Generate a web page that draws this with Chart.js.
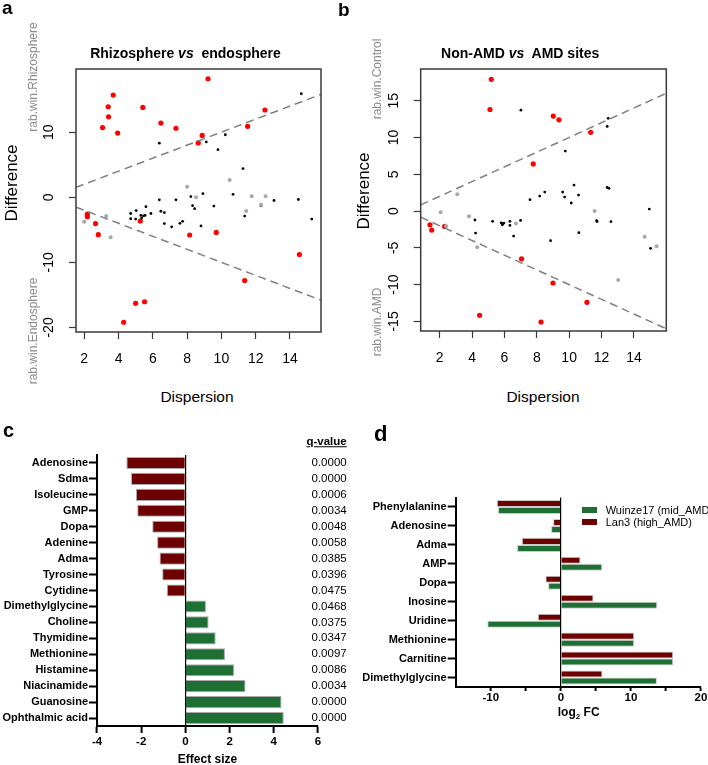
<!DOCTYPE html>
<html>
<head>
<meta charset="utf-8">
<script src="https://cdn.jsdelivr.net/npm/chart.js@4.4.1/dist/chart.umd.min.js"></script>
<style>
    html, body { margin: 0; padding: 0; background: #fff; overflow: hidden; }
    #page { position: relative; width: 708px; height: 765px; font-family: "Liberation Sans", Arial, sans-serif; }
    canvas { position: absolute; }
    .t { position: absolute; line-height: 1; white-space: nowrap; color: #000; }
</style>
</head>
<body>
<div id="page">
    <canvas id="chart-a" width="354" height="380" style="left:0;top:0"></canvas>
    <canvas id="chart-b" width="354" height="380" style="left:354px;top:0"></canvas>
    <canvas id="chart-c" width="354" height="355" style="left:0;top:410px"></canvas>
    <canvas id="chart-d" width="354" height="355" style="left:354px;top:410px"></canvas>
</div>
<script>
/*====================================
data
=========================================*/
// panel a: rhizosphere vs endosphere (dispersion, difference)
const aRed = [[9.22, 18.2], [3.69, 15.7], [3.40, 13.9], [3.42, 12.35], [3.07, 10.7], [3.95, 9.85],
    [5.42, 13.8], [6.47, 11.4], [7.35, 10.6], [8.88, 9.5], [8.65, 8.35], [11.53, 10.9], [12.54, 13.4],
    [2.18, -2.6], [2.18, -3.0], [2.66, -4.05], [2.82, -5.75], [5.27, -3.65], [8.15, -5.8], [9.70, -5.4],
    [11.36, -12.8], [14.55, -8.8], [5.0, -16.3], [5.52, -16.05], [4.3, -19.2]];
const aBlack = [[14.66, 15.9], [6.38, 8.3], [9.12, 8.5], [10.23, 9.6], [9.80, 7.3], [11.26, 4.4],
    [6.38, -0.4], [7.35, -0.4], [8.22, 0.1], [8.92, 0.55], [10.68, 0.45], [13.07, -0.5], [14.49, -0.35],
    [15.27, -3.35], [4.71, -2.5], [4.71, -3.3], [5.03, -2.05], [5.0, -3.35], [5.3, -2.8], [5.45, -2.85],
    [5.55, -2.8], [5.35, -3.2], [5.6, -1.45], [5.89, -2.5], [6.47, -2.15], [6.67, -2.35], [6.67, -4.05],
    [7.1, -4.55], [7.58, -4.0], [7.74, -3.7], [8.32, -1.3], [8.44, -1.75], [8.81, -4.4], [9.56, -1.35],
    [11.36, -2.9], [12.31, -1.3]];
const aGrey = [[10.48, 2.66], [8.0, 1.63], [8.52, 0.0], [11.77, 0.15], [12.58, 0.15], [11.45, -2.1],
    [12.31, -1.15], [2.0, -3.75], [3.28, -2.9], [3.54, -6.15]];
const aXRange = [1.52, 15.81];
const aYRange = [-20.7, 19.7];
const aXTicks = [2, 4, 6, 8, 10, 12, 14];
const aYTicks = [-20, -10, 0, 10];

// panel b: non-AMD vs AMD sites
const bRed = [[5.19, 17.9], [5.11, 13.8], [9.02, 12.9], [9.37, 12.4], [11.33, 10.7], [7.78, 6.4],
    [1.4, -1.86], [1.51, -2.58], [2.31, -2.09], [7.06, -6.48], [9.0, -9.78], [11.1, -12.41],
    [4.47, -14.17], [8.26, -15.08]];
const bBlack = [[7.02, 13.7], [12.41, 12.6], [12.35, 11.5], [9.76, 8.15],
    [7.58, 1.54], [8.18, 2.04], [8.49, 2.58], [9.6, 2.58], [9.72, 1.9], [10.3, 3.53], [10.58, 2.17],
    [10.13, 1.09], [12.35, 3.2], [12.46, 3.08], [4.18, -1.22], [4.22, -2.99], [5.27, -1.4], [5.8, -1.6],
    [5.87, -1.86], [5.97, -1.63], [5.9, -1.75], [6.34, -1.4], [6.34, -1.95], [6.57, -3.4], [7.0, -1.27],
    [8.85, -4.03], [10.6, -2.94], [11.7, -1.3], [11.72, -1.42], [12.58, -1.45], [14.95, 0.27], [15.03, -5.07]];
const bGrey = [[3.09, 2.27], [2.06, -0.18], [3.81, -0.72], [2.39, -2.04], [4.32, -4.93], [6.71, -1.68],
    [11.57, 0.0], [14.66, -3.49], [15.4, -4.8], [13.03, -9.38]];
const bXRange = [0.83, 16.0];
const bYRange = [-16.3, 19.3];
const bXTicks = [2, 4, 6, 8, 10, 12, 14];
const bYTicks = [-15, -10, -5, 0, 5, 10, 15];

// panel c: effect size
const cLabels = ['Adenosine', 'Sdma', 'Isoleucine', 'GMP', 'Dopa', 'Adenine', 'Adma', 'Tyrosine', 'Cytidine',
    'Dimethylglycine', 'Choline', 'Thymidine', 'Methionine', 'Histamine', 'Niacinamide', 'Guanosine', 'Ophthalmic acid'];
const cEffect = [-2.67, -2.46, -2.24, -2.18, -1.50, -1.28, -1.17, -1.05, -0.84,
    0.93, 1.05, 1.37, 1.79, 2.2, 2.72, 4.35, 4.45];
const cQValues = ['0.0000', '0.0000', '0.0006', '0.0034', '0.0048', '0.0058', '0.0385', '0.0396', '0.0475',
    '0.0468', '0.0375', '0.0347', '0.0097', '0.0086', '0.0034', '0.0000', '0.0000'];
const cXTicks = [-4, -2, 0, 2, 4, 6];

// panel d: log2 FC
const dLabels = ['Phenylalanine', 'Adenosine', 'Adma', 'AMP', 'Dopa', 'Inosine', 'Uridine', 'Methionine',
    'Carnitine', 'Dimethylglycine'];
const dLan3 = [-9.14, -1.1, -5.57, 2.8, -2.2, 4.66, -3.29, 10.47, 16.04, 5.94];
const dWuinze17 = [-8.96, -1.39, -6.24, 5.9, -1.81, 13.76, -10.49, 10.47, 16.04, 13.71];
const dXTicks = [-10, -5, 0, 5, 10, 15, 20];

const darkRed = '#6d0000';
const darkGreen = '#1f6f35';

Chart.defaults.font.family = '"Liberation Sans", Arial, sans-serif';
Chart.defaults.color = '#000';

const toPts = arr => arr.map(p => ({ x: p[0], y: p[1] }));

/*===============
R style frame + rotated y labels
====================*/
const rFrame = {
    id: 'rFrame',
    afterDraw(chart, args, opts) {
        const { ctx, chartArea: a, scales } = chart;
        ctx.save();
        ctx.strokeStyle = '#3a3a3a';
        ctx.lineWidth = 1.5;
        ctx.strokeRect(a.left, a.top, a.right - a.left, a.bottom - a.top);
        ctx.fillStyle = '#000';
        ctx.font = '14px "Liberation Sans", Arial, sans-serif';
        ctx.textAlign = 'center';
        ctx.textBaseline = 'middle';
        scales.y.ticks.forEach(t => {
            ctx.save();
            ctx.translate(opts.labelX, scales.y.getPixelForValue(t.value));
            ctx.rotate(-Math.PI / 2);
            ctx.fillText(String(t.value), 0, 0);
            ctx.restore();
        });
        ctx.restore();
    }
};

// q-value column next to panel c, one per category
const qColumn = {
    id: 'qColumn',
    afterDraw(chart, args, opts) {
        const { ctx, scales } = chart;
        ctx.save();
        ctx.fillStyle = '#000';
        ctx.font = '11.5px "Liberation Sans", Arial, sans-serif';
        ctx.textAlign = 'right';
        ctx.textBaseline = 'middle';
        opts.values.forEach((q, i) => {
            ctx.fillText(q, opts.right, scales.y.getPixelForValue(i));
        });
        ctx.restore();
    }
};

function scatterPanel(id, p) {
    const el = document.getElementById(id);
    const dash = { showLine: true, pointRadius: 0, borderColor: '#808080', borderWidth: 1.5, borderDash: [8, 5] };
    new Chart(el, {
        type: 'scatter',
        data: {
            datasets: [
                Object.assign({ data: p.xRange.map(v => ({ x: v, y: v })) }, dash),
                Object.assign({ data: p.xRange.map(v => ({ x: v, y: -v })) }, dash),
                { data: toPts(p.grey), backgroundColor: '#a8a8a8', pointRadius: 2, borderWidth: 0 },
                { data: toPts(p.black), backgroundColor: '#000', pointRadius: 1.4, borderWidth: 0 },
                { data: toPts(p.red), backgroundColor: '#ff0000', pointRadius: 2.6, borderWidth: 0 }
            ]
        },
        options: {
            responsive: false,
            animation: false,
            devicePixelRatio: 1,
            layout: { padding: { left: 0, top: 69, right: p.padRight, bottom: 0 } },
            plugins: { legend: { display: false }, tooltip: { enabled: false }, rFrame: { labelX: p.labelX } },
            scales: {
                x: {
                    type: 'linear', min: p.xRange[0], max: p.xRange[1],
                    afterBuildTicks: s => { s.ticks = p.xTicks.map(v => ({ value: v })); },
                    afterFit: s => { s.height = p.xHeight; },
                    grid: { drawOnChartArea: false, tickLength: 7, tickColor: '#3a3a3a', tickWidth: 1.2 },
                    border: { display: false },
                    ticks: { font: { size: 14 }, padding: 12, maxRotation: 0 }
                },
                y: {
                    type: 'linear', min: p.yRange[0], max: p.yRange[1],
                    afterBuildTicks: s => { s.ticks = p.yTicks.map(v => ({ value: v })); },
                    afterFit: s => { s.width = p.yWidth; },
                    grid: { drawOnChartArea: false, tickLength: 7, tickColor: '#3a3a3a', tickWidth: 1.2 },
                    border: { display: false },
                    ticks: { display: false }
                }
            }
        },
        plugins: [rFrame]
    });
}

/*===============
panels a, b
====================*/
scatterPanel('chart-a', {
    red: aRed, black: aBlack, grey: aGrey, xRange: aXRange, yRange: aYRange,
    xTicks: aXTicks, yTicks: aYTicks, padRight: 33, yWidth: 76, xHeight: 48, labelX: 49
});
scatterPanel('chart-b', {
    red: bRed, black: bBlack, grey: bGrey, xRange: bXRange, yRange: bYRange,
    xTicks: bXTicks, yTicks: bYTicks, padRight: 41.7, yWidth: 66.7, xHeight: 49, labelX: 40
});

/*===============
panel c
====================*/
new Chart(document.getElementById('chart-c'), {
    type: 'bar',
    data: {
        labels: cLabels,
        datasets: [{
            data: cEffect,
            backgroundColor: ctx => ctx.raw < 0 ? darkRed : darkGreen,
            borderColor: 'rgba(150, 150, 150, 0.8)',
            borderWidth: 1,
            barPercentage: 0.76,
            categoryPercentage: 1
        }]
    },
    options: {
        indexAxis: 'y',
        responsive: false,
        animation: false,
        devicePixelRatio: 1,
        layout: { padding: { left: 0, top: 45, right: 36, bottom: 0 } },
        plugins: { legend: { display: false }, tooltip: { enabled: false }, qColumn: { values: cQValues, right: 346.7 } },
        scales: {
            x: {
                type: 'linear', min: -4, max: 6,
                afterBuildTicks: s => { s.ticks = cXTicks.map(v => ({ value: v })); },
                afterFit: s => { s.height = 39; },
                grid: {
                    color: ctx => (ctx.tick && ctx.tick.value === 0) ? '#000' : 'rgba(0,0,0,0)',
                    lineWidth: 1.2, tickColor: '#000', tickWidth: 2, tickLength: 7
                },
                border: { color: '#000', width: 2 },
                ticks: { font: { size: 11.5, weight: 'bold' }, padding: 2, maxRotation: 0 }
            },
            y: {
                afterFit: s => { s.width = 97; },
                grid: { offset: false, drawOnChartArea: false, tickColor: '#000', tickWidth: 2, tickLength: 8 },
                border: { color: '#000', width: 2 },
                ticks: { font: { size: 11, weight: 'bold' }, padding: 1, autoSkip: false }
            }
        }
    },
    plugins: [qColumn]
});

/*===============
panel d
====================*/
new Chart(document.getElementById('chart-d'), {
    type: 'bar',
    data: {
        labels: dLabels,
        datasets: [
            { label: 'Lan3 (high_AMD)', data: dLan3, backgroundColor: darkRed },
            { label: 'Wuinze17 (mid_AMD)', data: dWuinze17, backgroundColor: darkGreen }
        ]
    },
    options: {
        indexAxis: 'y',
        responsive: false,
        animation: false,
        devicePixelRatio: 1,
        datasets: { bar: { barPercentage: 1, categoryPercentage: 0.74, borderWidth: 1, borderColor: 'rgba(170, 170, 170, 0.6)' } },
        layout: { padding: { left: 0, top: 87.5, right: 7, bottom: 0 } },
        plugins: { legend: { display: false }, tooltip: { enabled: false } },
        scales: {
            x: {
                type: 'linear', min: -15, max: 20,
                afterBuildTicks: s => { s.ticks = dXTicks.map(v => ({ value: v })); },
                afterFit: s => { s.height = 78; },
                grid: {
                    color: ctx => (ctx.tick && ctx.tick.value === 0) ? '#000' : 'rgba(0,0,0,0)',
                    lineWidth: 1.2, tickColor: '#000', tickWidth: 2, tickLength: 4
                },
                border: { color: '#000', width: 2 },
                ticks: { font: { size: 11.5, weight: 'bold' }, padding: 0, maxRotation: 0,
                    callback: v => (v % 10 === 0 ? String(v) : '') }
            },
            y: {
                afterFit: s => { s.width = 101.7; },
                grid: { offset: false, drawOnChartArea: false, tickColor: '#000', tickWidth: 2, tickLength: 8 },
                border: { color: '#000', width: 2 },
                ticks: { font: { size: 11, weight: 'bold' }, padding: 1, autoSkip: false }
            }
        }
    }
});

/*===============
text overlays
====================*/
const page = document.getElementById('page');
function put(html, x, y, css, anchor, rot) {
    const d = document.createElement('div');
    d.className = 't';
    d.innerHTML = html;
    d.style.cssText += css;
    d.style.left = x + 'px';
    d.style.top = y + 'px';
    const tx = anchor === 'l' ? '0' : (anchor === 'r' ? '-100%' : '-50%');
    d.style.transform = 'translate(' + tx + ',-50%)' + (rot ? ' rotate(-90deg)' : '');
    page.appendChild(d);
    return d;
}

put('a', 2, 6.9, 'font-size:19px;font-weight:bold;', 'l');
put('b', 338, 9.4, 'font-size:19px;font-weight:bold;', 'l');
put('c', 3, 429.6, 'font-size:20px;font-weight:bold;', 'l');
put('d', 374, 434.4, 'font-size:22px;font-weight:bold;', 'l');

put('Rhizosphere <i>vs</i>&nbsp; endosphere', 185.5, 52.5, 'font-size:14px;font-weight:bold;', 'c');
put('Non-AMD <i>vs</i>&nbsp; AMD sites', 520.2, 52.5, 'font-size:14px;font-weight:bold;', 'c');

put('Difference', 11, 183, 'font-size:17px;', 'c', true);
put('Difference', 363, 191, 'font-size:17px;', 'c', true);
put('rab.win.Rhizosphere', 33, 77, 'font-size:12px;color:#8a8a8a;', 'c', true);
put('rab.win.Endosphere', 33, 330.6, 'font-size:12px;color:#8a8a8a;', 'c', true);
put('rab.win.Control', 377, 79, 'font-size:12px;color:#8a8a8a;', 'c', true);
put('rab.win.AMD', 377, 322, 'font-size:12px;color:#8a8a8a;', 'c', true);

put('Dispersion', 197, 397, 'font-size:15.5px;', 'c');
put('Dispersion', 543, 397, 'font-size:15.5px;', 'c');

put('q-value', 346.7, 442, 'font-size:11.5px;font-weight:bold;text-decoration:underline;', 'r');
put('Effect size', 207.5, 759.3, 'font-size:12px;font-weight:bold;', 'c');
put('log<sub style="font-size:8px;line-height:0">2</sub> FC', 578.7, 712, 'font-size:12px;font-weight:bold;', 'c');

// legend for panel d
put('', 581.7, 510, 'width:15px;height:6px;background:' + darkGreen + ';', 'l');
put('', 581.7, 522.3, 'width:15px;height:6px;background:' + darkRed + ';', 'l');
put('Wuinze17 (mid_AMD)', 605.7, 510, 'font-size:11px;', 'l');
put('Lan3 (high_AMD)', 605.7, 522.3, 'font-size:11px;', 'l');
</script>
</body>
</html>
